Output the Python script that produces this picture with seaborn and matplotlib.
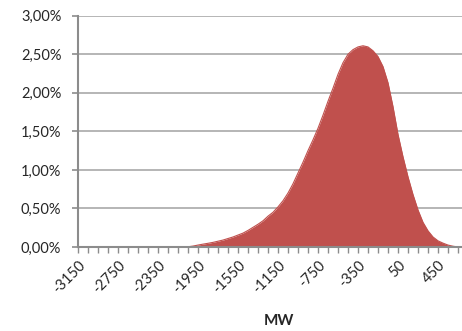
import matplotlib
matplotlib.use("Agg")
import matplotlib.pyplot as plt
import seaborn as sns
import numpy as np
import pandas as pd

# Data (MW, probability in %)
mw = list(range(-3150, 651, 50))
prob = ([0.0] * 22 +
        [0.003, 0.012, 0.025, 0.037, 0.048, 0.06, 0.075, 0.09, 0.11, 0.13,
         0.155, 0.18, 0.215, 0.255, 0.295, 0.34, 0.40, 0.45, 0.52, 0.60,
         0.70, 0.82, 0.96, 1.10, 1.25, 1.39, 1.54, 1.71, 1.89, 2.06,
         2.24, 2.39, 2.50, 2.56, 2.595, 2.61, 2.595, 2.545, 2.47, 2.34,
         2.13, 1.82, 1.46, 1.17, 0.91, 0.68, 0.48, 0.32, 0.21, 0.13,
         0.08, 0.05, 0.025, 0.01, 0.0])
ytick_vals = [0, 0.5, 1.0, 1.5, 2.0, 2.5, 3.0]
xtick_vals = list(range(-3150, 651, 100))
xlabel_vals = list(range(-3150, 651, 400))

df = pd.DataFrame({"MW": mw, "p": prob})

sns.set_theme(style="white")
plt.rcParams['font.family'] = ['Lato', 'DejaVu Sans']

fig = plt.figure(figsize=(4.62, 3.31), dpi=100)
ax = fig.add_axes([78/462, 1-247/331, 1-78/462, (247-15.7)/331])

red = "#C0504D"
sns.lineplot(data=df, x="MW", y="p", ax=ax, color=red, linewidth=0.8)
ax.fill_between(df["MW"], df["p"], 0, color=red, linewidth=0)

ax.set_xlim(-3150, 690)
ax.set_ylim(0, 3.0)

ax.set_yticks(ytick_vals)
ax.set_yticklabels([f"{v:.2f}%".replace(".", ",") for v in ytick_vals])
ax.yaxis.grid(True, color="#B0B0B0", linewidth=1.3)
ax.set_axisbelow(True)

ax.set_xticks(xtick_vals)
ax.set_xticklabels([str(v) if v in xlabel_vals else "" for v in xtick_vals],
                   rotation=45, ha="right", rotation_mode="anchor")

for s in ["top", "right"]:
    ax.spines[s].set_visible(False)
for s in ["left", "bottom"]:
    ax.spines[s].set_color("#8C8C8C")
    ax.spines[s].set_linewidth(1.5)

ax.tick_params(axis="y", left=True, length=4, width=1.2, color="#8C8C8C",
               labelsize=10.5, labelcolor="#262626", pad=8)
ax.tick_params(axis="x", bottom=True, length=4, width=1.0, color="#8C8C8C",
               labelsize=10.5, labelcolor="#262626", pad=4)

ax.set_xlabel("MW", fontsize=11, fontweight="bold", color="#262626")
ax.xaxis.set_label_coords((279-78)/(462-78), -(314-247)/(247-15.7))
ax.set_ylabel("")

fig.savefig("out.png", dpi=100)
